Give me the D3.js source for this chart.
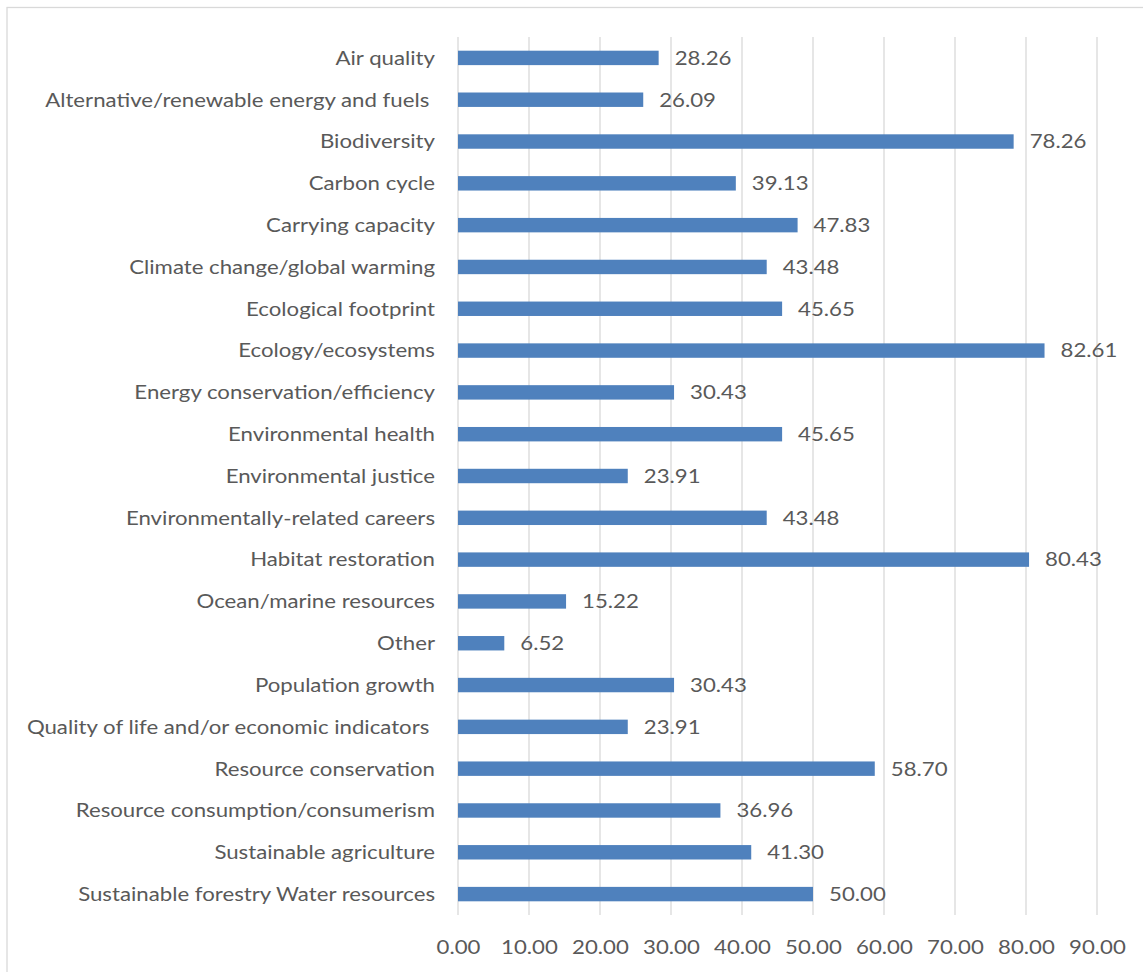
<!DOCTYPE html>
<html><head><meta charset="utf-8">
<script src="https://cdn.jsdelivr.net/npm/d3@7"></script>
<style>body{margin:0;background:#fff}</style>
</head><body>
<svg id="chart" width="1143" height="972"></svg>
<script>
const categories = ["Air quality","Alternative/renewable energy and fuels ","Biodiversity","Carbon cycle","Carrying capacity","Climate change/global warming","Ecological footprint","Ecology/ecosystems","Energy conservation/efficiency","Environmental health","Environmental justice","Environmentally-related careers","Habitat restoration","Ocean/marine resources","Other","Population growth","Quality of life and/or economic indicators ","Resource conservation","Resource consumption/consumerism","Sustainable agriculture","Sustainable forestry Water resources"];
const values = [28.26,26.09,78.26,39.13,47.83,43.48,45.65,82.61,30.43,45.65,23.91,43.48,80.43,15.22,6.52,30.43,23.91,58.70,36.96,41.30,50.00];
const xTicks = [0,10,20,30,40,50,60,70,80,90];

const svg = d3.select("#chart");
const font = "Lato, 'Open Sans', sans-serif";
const fs = 19;
const sx = 1.17;
const textColor = "#595959";

svg.append("rect").attr("x",7).attr("y",7.5).attr("width",1200).attr("height",1200)
  .attr("fill","#fff").attr("stroke","#d9d9d9").attr("stroke-width",1.3);

const x = d3.scaleLinear().domain([0,90]).range([458,1097]);
const y = d3.scaleBand().domain(categories).range([37,915]).paddingInner(0.655).paddingOuter(0.3275);

svg.append("g").selectAll("line").data(xTicks).join("line")
  .attr("x1",d=>x(d)).attr("x2",d=>x(d)).attr("y1",37).attr("y2",915)
  .attr("stroke","#d9d9d9").attr("stroke-width",1.3);

svg.append("g").selectAll("rect").data(values).join("rect")
  .attr("x",x(0)).attr("y",(d,i)=>y(categories[i]))
  .attr("width",d=>x(d)-x(0)).attr("height",y.bandwidth())
  .attr("fill","#4f81bd");

svg.append("g").selectAll("text").data(values).join("text")
  .attr("transform",(d,i)=>`translate(${x(d)+16},${y(categories[i])+y.bandwidth()/2}) scale(${sx},1)`)
  .attr("dy","0.36em").attr("font-family",font).attr("font-size",fs).attr("fill",textColor)
  .text(d=>d.toFixed(2));

svg.append("g").selectAll("text").data(categories).join("text")
  .attr("transform",d=>`translate(435,${y(d)+y.bandwidth()/2}) scale(${sx},1)`).attr("dy","0.36em")
  .attr("text-anchor","end").attr("font-family",font).attr("font-size",fs).attr("fill",textColor)
  .attr("xml:space","preserve").style("white-space","pre")
  .text(d=>d);

const xAxis = d3.axisBottom(x).tickValues(xTicks).tickFormat(d=>d.toFixed(2)).tickSize(0).tickPadding(0);
const ax = svg.append("g").attr("transform","translate(0,947)").call(xAxis);
ax.select(".domain").remove();
ax.selectAll("text").attr("dy","0.36em").attr("transform",`scale(${sx},1)`)
  .attr("font-family",font).attr("font-size",fs).attr("fill",textColor);
</script>
</body></html>
